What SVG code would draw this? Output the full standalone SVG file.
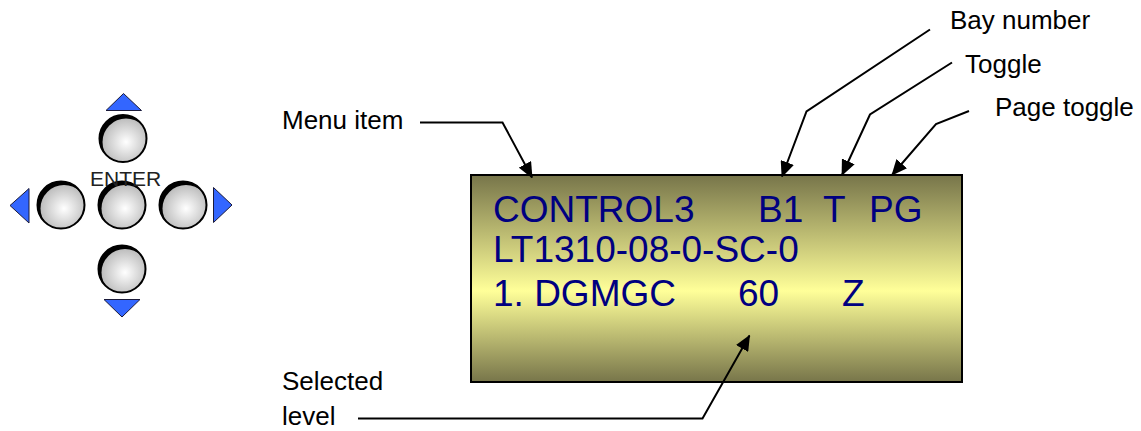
<svg xmlns="http://www.w3.org/2000/svg" width="1141" height="431" viewBox="0 0 1141 431">
<defs>
<style>
.lbl{font-family:"Liberation Sans",Arial,sans-serif;font-size:26px;fill:#000}
.lcd{font-family:"Liberation Sans",Arial,sans-serif;font-size:37px;fill:#000080}
.con{fill:none;stroke:#000;stroke-width:2;marker-end:url(#ah)}
.tri{fill:#3366ff;stroke:#1a1a3a;stroke-width:1}
</style>
<linearGradient id="lcdg" x1="0" y1="0" x2="0" y2="1">
<stop offset="0" stop-color="#77754a"/>
<stop offset="0.56" stop-color="#ffff99"/>
<stop offset="1" stop-color="#77754a"/>
</linearGradient>
<radialGradient id="btn" cx="0.5" cy="0.5" r="0.5">
<stop offset="0" stop-color="#ffffff"/>
<stop offset="1" stop-color="#bdbdbd"/>
</radialGradient>
<clipPath id="btnclip"><circle cx="0" cy="0" r="23.5"/></clipPath>
<g id="button">
<circle cx="0" cy="0" r="23.5" fill="#000"/>
<circle cx="3" cy="3.5" r="23.5" fill="url(#btn)" clip-path="url(#btnclip)"/>
<circle cx="0" cy="0" r="23.5" fill="none" stroke="#000" stroke-width="2"/>
</g>
<marker id="ah" viewBox="0 0 16 14" refX="15" refY="7" markerWidth="16" markerHeight="14" markerUnits="userSpaceOnUse" orient="auto">
<path d="M0,0 L16,7 L0,14 z" fill="#000"/>
</marker>
</defs>

<g id="keypad">
<use id="btn-up" href="#button" x="123" y="138.5"/>
<use id="btn-left" href="#button" x="61" y="205"/>
<use id="btn-enter" href="#button" x="122" y="205"/>
<use id="btn-right" href="#button" x="183" y="205"/>
<use id="btn-down" href="#button" x="122" y="269"/>
<polygon id="tri-up" class="tri" points="123.5,93.5 141.5,110.5 106,110.5"/>
<polygon id="tri-left" class="tri" points="10,205.5 29,188.5 29,223"/>
<polygon id="tri-right" class="tri" points="232,205 213.5,187.5 213.5,222.5"/>
<polygon id="tri-down" class="tri" points="104,299.5 140,299.5 122,317"/>
<text x="90" y="186" style="font-family:'Liberation Sans',Arial,sans-serif;font-size:21px;fill:#222">ENTER</text>
</g>

<g id="lcd">
<rect x="471" y="175" width="491" height="207" fill="url(#lcdg)" stroke="#000" stroke-width="2"/>
<text class="lcd" x="493" y="221.5">CONTROL3</text>
<text class="lcd" x="758" y="221.5">B1</text>
<text class="lcd" x="823" y="221.5">T</text>
<text class="lcd" x="869" y="221.5">PG</text>
<text class="lcd" x="493" y="262">LT1310-08-0-SC-0</text>
<text class="lcd" x="493" y="305.5">1. DGMGC</text>
<text class="lcd" x="738" y="305.5">60</text>
<text class="lcd" x="842" y="305.5">Z</text>
</g>

<g id="label-menu"><text class="lbl" x="282" y="129">Menu item</text></g>
<g id="label-bay"><text class="lbl" x="950" y="29">Bay number</text></g>
<g id="label-toggle"><text class="lbl" x="965" y="72.5">Toggle</text></g>
<g id="label-page"><text class="lbl" x="995" y="116">Page toggle</text></g>
<g id="label-selected"><text class="lbl" x="282" y="390">Selected</text><text class="lbl" x="282" y="425">level</text></g>

<g id="connectors">
<polyline class="con" points="420,122.5 502.5,122.5 532,177.5"/>
<polyline class="con" points="930,29.5 806.5,111.5 782,176.5"/>
<polyline class="con" points="952,62.5 870,114.5 842,175"/>
<polyline class="con" points="969,111 936,124 892,175"/>
<polyline class="con" points="358,418.5 702.5,418.5 749.5,335.5"/>
</g>
</svg>
